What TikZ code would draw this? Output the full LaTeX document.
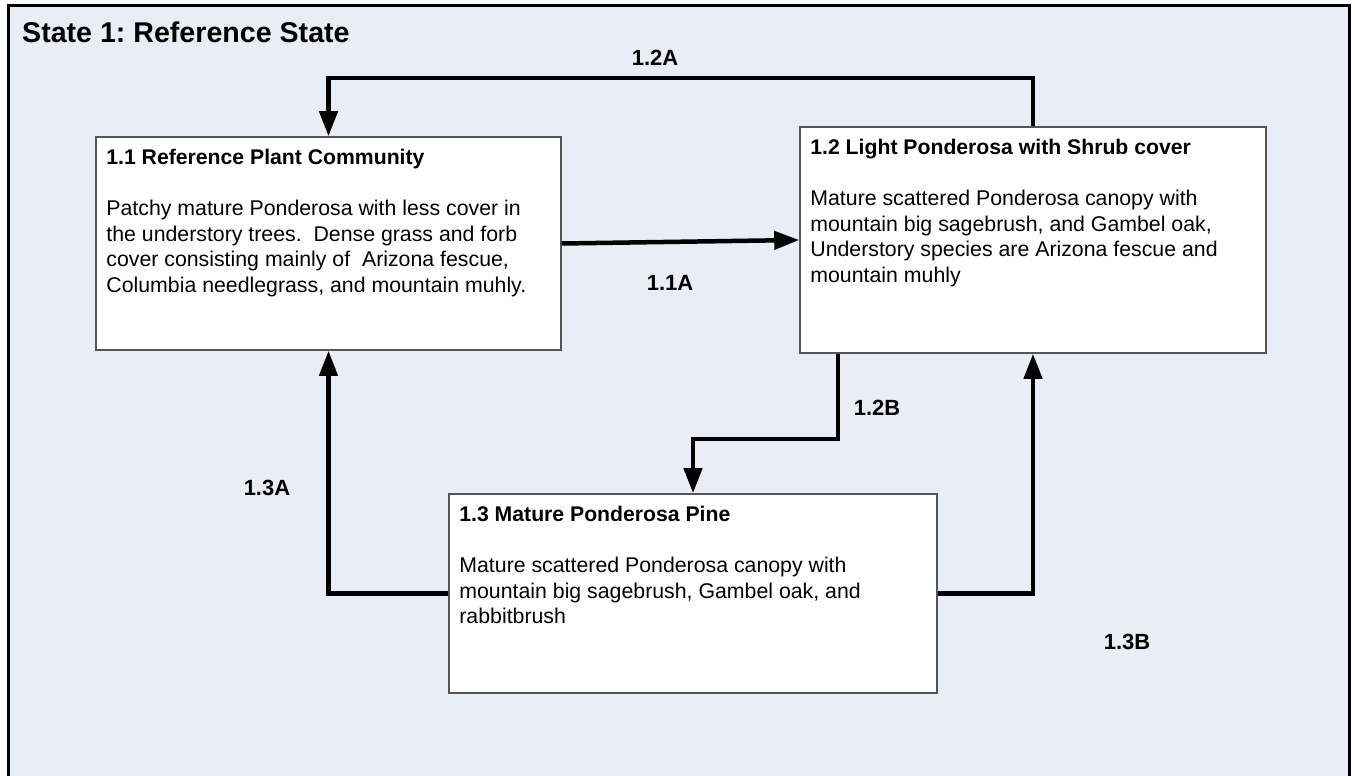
\documentclass[tikz,border=0pt]{standalone}
\usepackage{fontspec}
\setmainfont{Liberation Sans}
\usetikzlibrary{arrows.meta,calc}
\definecolor{bgblue}{RGB}{233,237,245}
\definecolor{boxline}{RGB}{85,85,85}
\frenchspacing
\begin{document}
\begin{tikzpicture}[x=1pt,y=-1pt,
  statebox/.style={draw=boxline,line width=1.6pt,fill=white,rectangle,inner sep=0pt},
  boxtitle/.style={anchor=base west,inner sep=0pt,font=\fontsize{21.2}{24}\selectfont\bfseries},
  boxbody/.style={anchor=north west,inner sep=0pt,align=left,font=\fontsize{21.3}{25.7}\selectfont},
  conn/.style={line width=4.5pt,-{Triangle[length=25pt,width=18pt]}},
  lbl/.style={font=\fontsize{22}{26}\selectfont\bfseries,inner sep=0pt}]
\useasboundingbox (0,0) rectangle (1355,776);
\clip (0,0) rectangle (1355,776);
\fill[white] (0,0) rectangle (1355,776);
\draw[line width=3pt,fill=bgblue] (8,6) rectangle (1349,800);
\node[anchor=west,inner sep=0pt,font=\fontsize{28.6}{32}\selectfont\bfseries] (title) at (22,32) {State 1: Reference State};

% boxes
\node[statebox,minimum width=465pt,minimum height=213pt] (box11) at (328.5,243.5) {};
\node[statebox,minimum width=466pt,minimum height=226pt] (box12) at (1033,240) {};
\node[statebox,minimum width=488pt,minimum height=199pt] (box13) at (693,593.5) {};

% box texts
\node[boxtitle] (t11) at ($(box11.north west)+(11,28)$) {1.1 Reference Plant Community};
\node[boxbody] (b11) at ($(box11.north west)+(11,61)$) {\strut Patchy mature Ponderosa with less cover in\\
the understory trees.\ \ Dense grass and forb\\
cover consisting mainly of\ \ Arizona fescue,\\
Columbia needlegrass, and mountain muhly.};

\node[boxtitle] (t12) at ($(box12.north west)+(11,28)$) {1.2 Light Ponderosa with Shrub cover};
\node[boxbody] (b12) at ($(box12.north west)+(11,61)$) {\strut Mature scattered Ponderosa canopy with\\
mountain big sagebrush, and Gambel oak,\\
Understory species are Arizona fescue and\\
mountain muhly};

\node[boxtitle] (t13) at ($(box13.north west)+(11,28)$) {1.3 Mature Ponderosa Pine};
\node[boxbody] (b13) at ($(box13.north west)+(11,61)$) {\strut Mature scattered Ponderosa canopy with\\
mountain big sagebrush, Gambel oak, and\\
rabbitbrush};

% connectors
\coordinate (c12a) at (1033,78);
\draw[conn] (box12.north) -- (c12a) -| (box11.north);
\draw[conn] (box11.east) -- (box12.west);
\coordinate (c12b) at (838,439);
\draw[conn] (box12.south -| c12b) -- (c12b) -| (box13.north);
\draw[conn] (box13.west) -| (box11.south);
\draw[conn] (box13.east) -| (box12.south);

% labels
\node[lbl] (l12a) at (655,58) {1.2A};
\node[lbl] (l11a) at (670,283) {1.1A};
\node[lbl] (l12b) at (877,408) {1.2B};
\node[lbl] (l13a) at (267,488) {1.3A};
\node[lbl] (l13b) at (1127,642) {1.3B};
\end{tikzpicture}
\end{document}
